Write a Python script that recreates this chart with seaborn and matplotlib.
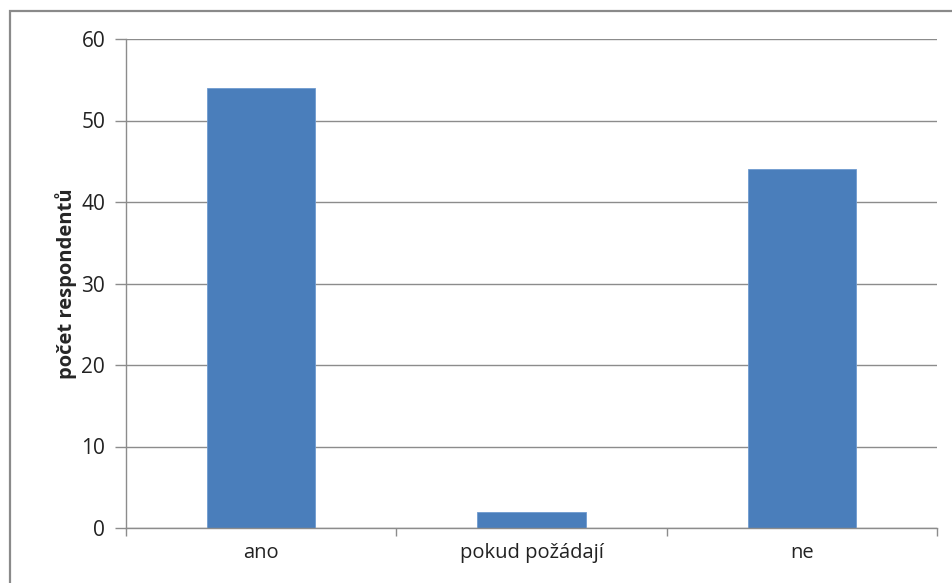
import numpy as np
import pandas as pd
import seaborn as sns
import matplotlib.pyplot as plt
from matplotlib.patches import Rectangle

categories = ["ano", "pokud požádají", "ne"]
counts = [54, 2, 44]
y_ticks = [0, 10, 20, 30, 40, 50, 60]

df = pd.DataFrame({"odpoved": categories, "pocet": counts})

sns.set_theme(style="white")
plt.rcParams["font.family"] = ["Open Sans", "DejaVu Sans"]

fig = plt.figure(figsize=(9.52, 5.83), dpi=100)
ax = fig.add_axes([126 / 952, 1 - 528 / 583, (937 - 126) / 952, (528 - 39) / 583])

sns.barplot(data=df, x="odpoved", y="pocet", color="#4a7ebb", saturation=1,
            width=0.4, ax=ax, edgecolor="#6f9bd0", linewidth=0.6)

ax.set_ylim(0, 60)
ax.set_xlim(-0.5, 2.5)
ax.set_yticks(y_ticks)
ax.yaxis.grid(True, color="#8c8c8c", linewidth=1)
ax.set_axisbelow(True)

for side in ["top", "right"]:
    ax.spines[side].set_visible(False)
for side in ["left", "bottom"]:
    ax.spines[side].set_color("#8c8c8c")
    ax.spines[side].set_linewidth(1)

ax.tick_params(axis="y", which="major", length=8, width=1, color="#8c8c8c",
               labelsize=15, labelcolor="#222222", pad=7, left=True)
ax.tick_params(axis="x", which="major", length=0, labelsize=14.5,
               labelcolor="#222222", pad=11)
ax.set_xticks([-0.5, 0.5, 1.5, 2.5], minor=True)
ax.tick_params(axis="x", which="minor", length=6, width=1, color="#8c8c8c",
               bottom=True, direction="out")

ax.set_xlabel("")
ax.set_ylabel("počet respondentů", fontsize=14.5, fontweight="bold", labelpad=3)

border = Rectangle((10 / 952, -0.05), 1.1, 1 - 11 / 583 + 0.05,
                   transform=fig.transFigure, fill=False,
                   edgecolor="#8a8a8a", linewidth=1.6, clip_on=False)
fig.patches.append(border)

fig.savefig("out.png", dpi=100)
